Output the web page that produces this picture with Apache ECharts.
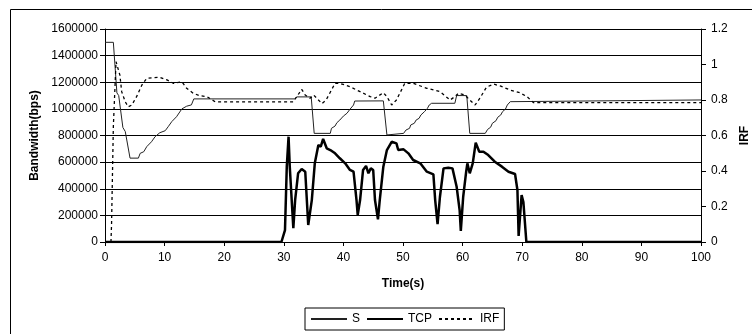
<!DOCTYPE html>
<html><head><meta charset="utf-8">
<script src="https://cdn.jsdelivr.net/npm/echarts@6/dist/echarts.min.js"></script>
<style>html,body{margin:0;padding:0;background:#fff}#c{width:752px;height:334px}</style>
</head><body><div id="c"></div>
<script>
// X ticks
const xTicks = [0,10,20,30,40,50,60,70,80,90,100];
// S series (bps)
const sTime = [0,1.4,2.0,2.3,3.0,3.4,4.2,5.6,5.9,6.5,7.0,7.8,8.4,9.2,10.1,10.6,11.2,12.0,12.9,13.7,14.5,14.9,31.8,32.2,34.6,35.1,37.8,38.0,38.6,38.9,39.4,40.0,40.6,41.1,41.7,41.9,46.7,47.3,50.1,50.5,51.1,51.3,51.9,52.2,52.7,53.0,53.6,54.1,54.4,54.8,58.7,59.0,60.7,61.2,63.8,64.2,64.7,65.0,65.6,65.9,66.4,66.7,67.2,67.5,68.0,68.2,100];
const sVal = [1500000,1500000,1120000,1100000,860000,830000,630000,630000,666000,678000,716000,753000,791000,821000,836000,866000,904000,941000,1000000,1020000,1030000,1075000,1075000,1090000,1090000,816000,816000,854000,871000,896000,916000,946000,967000,997000,1029000,1059000,1060000,804000,816000,841000,854000,879000,892000,916000,929000,954000,979000,1004000,1029000,1042000,1042000,1100000,1100000,816000,816000,846000,862000,892000,911000,937000,954000,979000,999000,1029000,1054000,1067000,1067000];
// TCP series (bps)
const tcpTime = [0,29.6,30.2,30.5,30.8,31.0,31.6,31.9,32.4,33.0,33.6,34.1,34.7,35.2,35.8,36.2,36.6,37.2,37.8,38.6,39.4,40.3,41.1,41.7,42.2,42.4,42.8,43.3,43.8,44.2,44.6,45.0,45.3,45.8,46.1,46.7,47.3,48.1,48.9,49.2,50.1,50.9,51.7,52.9,54.0,55.1,55.4,55.8,56.2,56.8,57.6,58.3,59.0,59.5,59.7,60.1,60.6,60.8,61.2,61.7,62.2,62.8,63.5,64.3,65.4,66.6,67.7,68.8,69.2,69.4,69.9,70.2,70.7,100];
const tcpVal = [0,0,90000,566000,791000,566000,103000,315000,516000,548000,528000,128000,315000,591000,729000,716000,774000,704000,691000,666000,629000,591000,541000,528000,315000,203000,315000,541000,571000,516000,553000,541000,315000,170000,315000,566000,691000,753000,741000,691000,696000,666000,616000,591000,528000,508000,315000,135000,340000,553000,558000,553000,415000,240000,83000,340000,528000,591000,516000,591000,746000,678000,678000,653000,603000,566000,528000,511000,391000,45000,353000,300000,0,0];
// IRF series (right axis)
const irfTime = [0,1.0,1.1,1.4,1.85,2.5,2.8,3.4,3.9,4.5,5.3,6.2,7.0,9.2,10.4,11.5,12.9,13.7,14.8,15.9,17.1,18.5,31.6,33.0,33.6,34.4,35.0,36.4,37.1,38.6,39.4,41.1,42.8,44.5,45.3,46.7,47.3,48.1,48.9,50.3,51.7,54.0,56.2,57.9,58.7,59.3,60.4,61.2,62.1,62.9,64.0,65.2,66.3,68.0,69.6,70.8,71.9,100];
const irfVal = [0,0,0.1,0.65,1.016,0.94,0.847,0.79,0.762,0.772,0.819,0.885,0.922,0.928,0.913,0.894,0.903,0.866,0.838,0.824,0.819,0.79,0.79,0.86,0.828,0.81,0.828,0.78,0.8,0.894,0.894,0.875,0.847,0.819,0.81,0.841,0.819,0.772,0.8,0.894,0.894,0.866,0.847,0.8,0.819,0.838,0.828,0.8,0.772,0.81,0.872,0.89,0.879,0.856,0.841,0.819,0.785,0.785];

const zip = (a,b) => a.map((t,i)=>[t,b[i]]);
const FF = "'Liberation Sans', Arial, sans-serif";
const chart = echarts.init(document.getElementById('c'));
chart.setOption({
  animation: false,
  textStyle: {fontFamily: FF, color: '#000'},
  graphic: [{type:'rect', shape:{x:10.5,y:9.5,width:800,height:400}, style:{fill:'none',stroke:'#000',lineWidth:1}, silent:true}],
  grid: {left:105, right:51, top:29, bottom:92, containLabel:false, outerBoundsMode:'none'},
  legend: {
    left:305, top:308, padding:[5,5], itemGap:6, itemWidth:36, itemHeight:14,
    borderColor:'#000', borderWidth:1, borderRadius:0,
    itemStyle:{opacity:0, borderWidth:0},
    textStyle:{fontFamily:FF, fontSize:12, color:'#000'},
    data:['S','TCP','IRF']
  },
  xAxis: {
    type:'value', min:0, max:100, interval:10,
    name:'Time(s)', nameLocation:'middle', nameGap:36,
    nameTextStyle:{fontFamily:FF, fontSize:12, fontWeight:'bold', color:'#000'},
    axisLine:{show:true, onZero:false, lineStyle:{color:'#000', width:1}},
    axisTick:{show:true, length:4, lineStyle:{color:'#000'}},
    axisLabel:{fontFamily:FF, fontSize:12, color:'#000', margin:10, formatter: v => xTicks.includes(v) ? String(v) : ''},
    splitLine:{show:false}
  },
  yAxis: [{
    type:'value', min:0, max:1600000, interval:200000, position:'left',
    name:'Bandwidth(bps)', nameLocation:'middle', nameGap:62, nameRotate:90,
    nameTextStyle:{fontFamily:FF, fontSize:12, fontWeight:'bold', color:'#000'},
    axisLine:{show:true, lineStyle:{color:'#000', width:1}},
    axisTick:{show:true, length:5, lineStyle:{color:'#000'}},
    axisLabel:{fontFamily:FF, fontSize:12, color:'#000', margin:7, formatter: v => String(v)},
    splitLine:{show:true, lineStyle:{color:'#000', width:1}}
  },{
    type:'value', min:0, max:1.2, interval:0.2, position:'right',
    name:'IRF', nameLocation:'middle', nameGap:38, nameRotate:90,
    nameTextStyle:{fontFamily:FF, fontSize:12, fontWeight:'bold', color:'#000'},
    axisLine:{show:true, lineStyle:{color:'#000', width:1}},
    axisTick:{show:true, length:5, lineStyle:{color:'#000'}},
    axisLabel:{fontFamily:FF, fontSize:12, color:'#000', margin:10, formatter: v => String(Math.round(v*10)/10)},
    splitLine:{show:false}
  }],
  series: [
    {name:'S', type:'line', yAxisIndex:0, data:zip(sTime,sVal), showSymbol:false, symbol:'none',
     lineStyle:{color:'#222', width:1}, itemStyle:{color:'#222'}, z:3},
    {name:'TCP', type:'line', yAxisIndex:0, data:zip(tcpTime,tcpVal), showSymbol:false, symbol:'none',
     lineStyle:{color:'#000', width:2.5}, itemStyle:{color:'#000'}, z:4},
    {name:'IRF', type:'line', yAxisIndex:1, data:zip(irfTime,irfVal), showSymbol:false, symbol:'none',
     lineStyle:{color:'#000', width:1.3, type:[3,3]}, itemStyle:{color:'#000'}, z:5}
  ]
});
</script></body></html>
